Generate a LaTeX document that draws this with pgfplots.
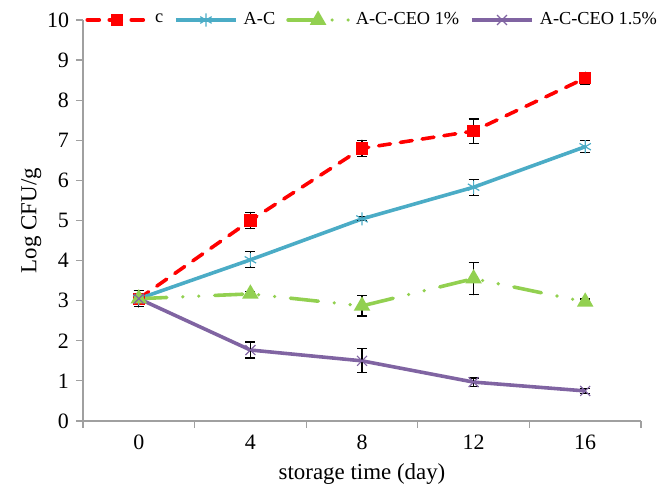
\documentclass[border=0pt]{standalone}
\usepackage{pgfplots}
\pgfplotsset{compat=1.18}
\usepackage{fontspec}
\setmainfont{Liberation Serif}
\definecolor{cred}{RGB}{255,0,0}
\definecolor{cblue}{RGB}{75,172,198}
\definecolor{cgreen}{RGB}{146,208,80}
\definecolor{cpurple}{RGB}{128,100,162}
\definecolor{caxis}{RGB}{160,160,160}
\begin{document}
\begin{tikzpicture}
\begin{axis}[
 scale only axis, width=279bp, height=200.5bp,
 xmin=-0.5, xmax=4.5, ymin=0, ymax=10,
 axis lines=left, axis line style={caxis, line width=0.6pt, -},
 xtick={-0.5,0.5,...,4.5}, x tick label as interval, xticklabels={0,4,8,12,16},
 ytick={0,1,...,10},
 tick align=outside, major tick length=3.5bp,
 tick style={caxis, line width=0.6pt},
 tick label style={font=\fontsize{11}{13}\selectfont, black},
 /pgf/number format/assume math mode=true,
 xlabel={storage time (day)}, ylabel={Log CFU/g},
 label style={font=\fontsize{11.5}{13}\selectfont},
 ylabel style={xshift=0bp, yshift=-4bp},
 legend columns=4,
 legend style={draw=none, fill=none, at={(rel axis cs:0.52,1)}, anchor=center,
   font=\fontsize{9.2}{11}\selectfont,
   /tikz/every odd column/.append style={column sep=1bp},
   /tikz/every even column/.append style={column sep=3.5bp}},
 legend image code/.code={\draw[mark repeat=2,mark phase=2] plot coordinates {(0bp,0bp)(15bp,0bp)(30bp,0bp)};},
 error bars/y dir=both, error bars/y explicit,
 error bars/error bar style={black, line width=0.6pt, solid},
 error bars/error mark options={rotate=90, mark size=2.5bp, black, line width=0.6pt, solid},
 clip=false,
]
\coordinate (sw) at (rel axis cs:0,0);
\addplot[cred, line width=1.8pt, line cap=round, dash pattern=on 6bp off 5bp, mark=square*, mark size=2.2bp, mark options={solid}]
 table[x=x, y=y, y error=e] {
x y e
0 3.05 0.2
1 5.00 0.2
2 6.80 0.2
3 7.23 0.3
4 8.55 0.15
};
\addlegendentry{c}
\addplot[cblue, line width=1.8pt, mark=asterisk, mark size=3.3bp, mark options={solid, line width=0.6pt}]
 table[x=x, y=y, y error=e] {
x y e
0 3.05 0.2
1 4.02 0.2
2 5.04 0.05
3 5.83 0.2
4 6.84 0.15
};
\addlegendentry{A-C}
\addplot[cgreen, line width=1.8pt, line cap=round, dash pattern=on 14bp off 8bp on 0bp off 8bp on 0bp off 8bp, mark=triangle*, mark size=3bp, mark options={solid}]
 table[x=x, y=y, y error=e] {
x y e
0 3.05 0.2
1 3.17 0.05
2 2.87 0.25
3 3.55 0.4
4 2.97 0.07
};
\addlegendentry{A-C-CEO 1\%}
\addplot[cpurple, line width=1.8pt, mark=x, mark size=3.5bp, mark options={solid, line width=0.6pt}]
 table[x=x, y=y, y error=e] {
x y e
0 3.05 0.2
1 1.77 0.2
2 1.50 0.3
3 0.97 0.1
4 0.75 0.07
};
\addlegendentry{A-C-CEO 1.5\%}
\end{axis}
\pgfresetboundingbox
\path[use as bounding box] ([xshift=-41.5bp,yshift=-34.5bp]sw) rectangle ([xshift=288.5bp,yshift=210.5bp]sw);
\end{tikzpicture}
\end{document}
